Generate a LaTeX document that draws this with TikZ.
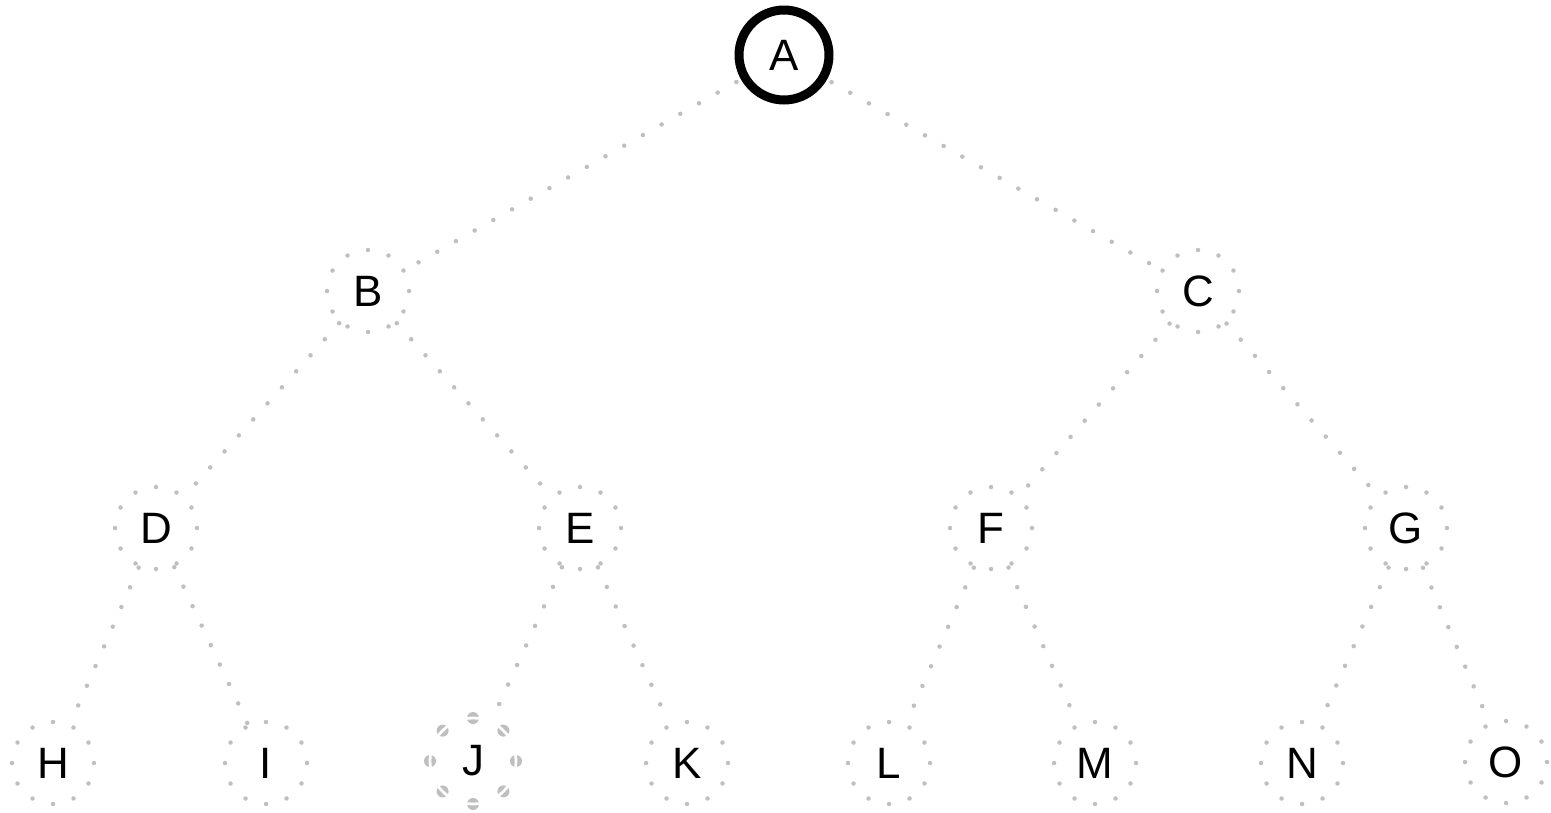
\documentclass[tikz,border=0pt]{standalone}
\usepackage{fontspec}
\setmainfont{Liberation Sans}
\usepackage{tikz}

\begin{document}
\begin{tikzpicture}[x=0.02cm,y=-0.02cm,
	every node/.style={font=\fontsize{25}{30}\selectfont},
	leaf/.style={circle,inner sep=0pt,minimum size=1.64cm,draw=gray!50,line width=0.09cm,line cap=round,dash pattern=on 0pt off 0.4293cm},
	root/.style={circle,inner sep=0pt,minimum size=1.8cm,draw=black,line width=0.18cm},
	marked/.style={circle,inner sep=0pt,minimum size=1.72cm,draw=gray!50,line width=0.24cm,line cap=round,dash pattern=on 0pt off 0.6754cm,postaction={draw=white,line width=0.055cm,solid}},
	link/.style={draw=gray!50,line width=0.09cm,line cap=round,dash pattern=on 0pt off 0.43cm}]
	
	\useasboundingbox (0,0) rectangle (1551,812);
	
	\node[root] (a) at (784,55) {A};
	
	\node[leaf] (b) at (368,291) {B};
	
	\node[leaf] (c) at (1198,291) {C};
	
	\node[leaf] (d) at (156,528) {D};
	
	\node[leaf] (e) at (580,528) {E};
	
	\node[leaf] (f) at (991,528) {F};
	
	\node[leaf] (g) at (1406,528) {G};
	
	\node[leaf] (h) at (53,763) {H};
	
	\node[leaf] (i) at (266,763) {I};
	
	\node[marked] (j) at (473,761) {J};
	
	\node[leaf] (k) at (687,763) {K};
	
	\node[leaf] (l) at (889,763) {L};
	
	\node[leaf] (m) at (1095,763) {M};
	
	\node[leaf] (n) at (1302,763) {N};
	
	\node[leaf] (o) at (1506,762) {O};
	
	\draw[link,shorten <=3pt] (a) -- (b);
	\draw[link,shorten <=3pt] (a) -- (c);
	\draw[link] (b) -- (d);
	\draw[link] (b) -- (e);
	\draw[link] (c) -- (f);
	\draw[link] (c) -- (g);
	\draw[link] (d) -- (h);
	\draw[link] (d) -- (i);
	\draw[link] (e) -- (j);
	\draw[link] (e) -- (k);
	\draw[link] (f) -- (l);
	\draw[link] (f) -- (m);
	\draw[link] (g) -- (n);
	\draw[link] (g) -- (o);
	
\end{tikzpicture}
\end{document}
